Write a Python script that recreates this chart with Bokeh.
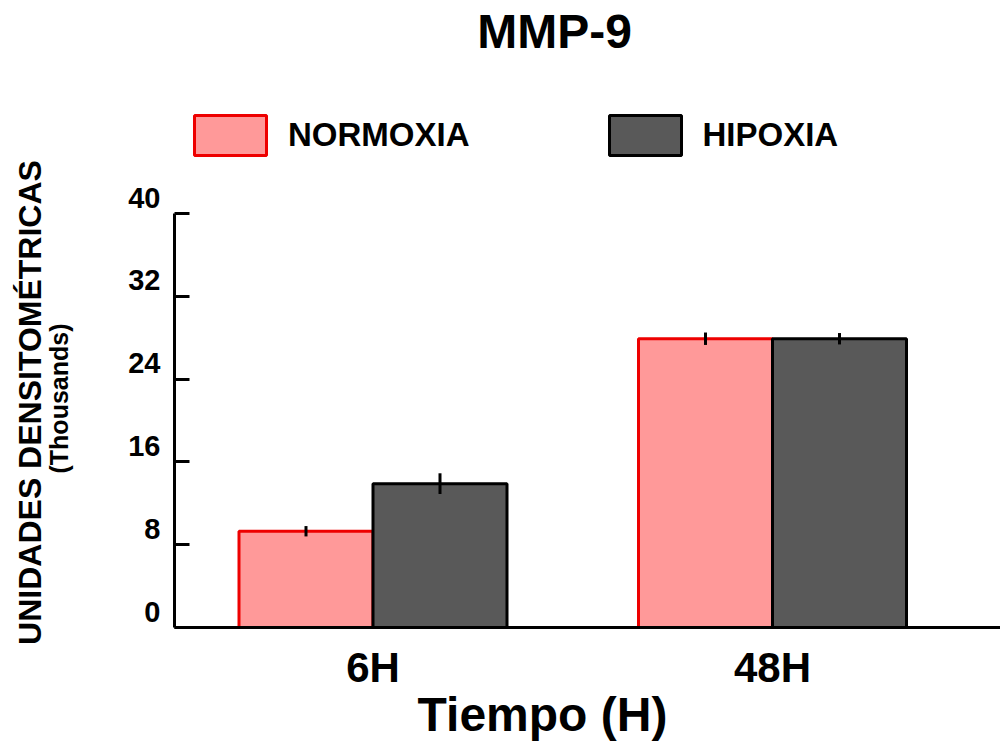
from bokeh.plotting import figure
from bokeh.models import (ColumnDataSource, FixedTicker, Legend, LegendItem,
                          LabelSet, Label, CustomJSTickFormatter)
from bokeh.core.properties import value
from bokeh.transform import dodge
from bokeh.embed import file_html
from bokeh.resources import INLINE
import math

# ---------------- data ----------------
categories = ["6H", "48H"]
normoxia = [9.3, 27.9]
normoxia_err = [0.5, 0.6]
hipoxia = [13.9, 27.9]
hipoxia_err = [1.0, 0.55]
series_names = ["NORMOXIA", "HIPOXIA"]
y_ticks = [0, 8, 16, 24, 32, 40]
title_text = "MMP-9"
x_title = "Tiempo (H)"
y_title_1 = "UNIDADES DENSITOMÉTRICAS"
y_title_2 = "(Thousands)"

# ---------------- layout ----------------
FONT = "Liberation Sans"
W, H = 1000, 741
# pixel positions (picture coordinates) of the plotting area of the original
AX_LEFT, AX_BOTTOM, AX_TOP = 174, 627, 213
G1_CENTER = 372.5
PX_PER_X = 399.5
PX_PER_Y = (AX_BOTTOM - AX_TOP) / 40.0
BAR_W = 134 / PX_PER_X

def dx(px):
    return 1 + (px - G1_CENTER) / PX_PER_X

def dy(py):
    return (AX_BOTTOM - py) / PX_PER_Y

XS, XE = dx(0), dx(W)
YS, YE = dy(H), dy(0)

pos = [i + 1 for i in range(len(categories))]
src = ColumnDataSource(dict(x=pos, cat=categories, n=normoxia, h=hipoxia))

p = figure(width=W, height=H, x_range=(XS, XE), y_range=(YS, YE),
           output_backend="svg", toolbar_location=None, title=None,
           min_border=0, min_border_left=0, min_border_right=0,
           min_border_top=0, min_border_bottom=0)
p.outline_line_color = None
p.xgrid.visible = False
p.ygrid.visible = False
p.background_fill_color = "white"
p.border_fill_color = "white"

r_n = p.vbar(x=dodge("x", -BAR_W / 2, range=p.x_range), top="n", width=BAR_W,
             bottom=0, source=src, fill_color="#FF9999", line_color="#EE0000",
             line_width=3)
r_h = p.vbar(x=dodge("x", BAR_W / 2, range=p.x_range), top="h", width=BAR_W,
             bottom=0, source=src, fill_color="#595959", line_color="black",
             line_width=3)

# error bars
ex = [x - BAR_W / 2 for x in pos] + [x + BAR_W / 2 for x in pos]
ev = normoxia + hipoxia
ee = normoxia_err + hipoxia_err
p.segment(x0=ex, x1=ex, y0=[v - e for v, e in zip(ev, ee)],
          y1=[v + e for v, e in zip(ev, ee)], line_color="black", line_width=3)

# axes, fixed inside the canvas
x_axis_pos = dx(AX_LEFT)
p.xaxis.fixed_location = 0
p.xaxis.bounds = (x_axis_pos, XE)
p.xaxis.ticker = FixedTicker(ticks=[])
p.xaxis.axis_line_width = 3
p.xaxis.major_tick_line_color = None
p.xaxis.minor_tick_line_color = None

p.yaxis.fixed_location = x_axis_pos
p.yaxis.bounds = (y_ticks[0], y_ticks[-1])
p.yaxis.ticker = FixedTicker(ticks=y_ticks)
p.yaxis.axis_line_width = 3
p.yaxis.major_tick_line_width = 3
p.yaxis.major_tick_in = 15
p.yaxis.major_tick_out = 0
p.yaxis.minor_tick_line_color = None
p.yaxis.formatter = CustomJSTickFormatter(code="return ''")
p.yaxis.major_label_standoff = 0

# y tick labels (raised above tick marks like the original)
tsrc = ColumnDataSource(dict(y=y_ticks, t=[str(v) for v in y_ticks]))
p.add_layout(LabelSet(x=dx(160), y="y", text="t", source=tsrc, y_offset=6,
                      text_align="right", text_baseline="alphabetic",
                      text_font=value(FONT), text_font_style="bold",
                      text_font_size="29px", text_color="black"))

# category labels
p.add_layout(LabelSet(x="x", y=dy(681), text="cat", source=src,
                      text_align="center", text_baseline="alphabetic",
                      text_font=value(FONT), text_font_style="bold",
                      text_font_size="42px", text_color="black"))

# x axis title
p.add_layout(Label(x=dx(542), y=dy(714), text=x_title, text_align="center",
                   text_baseline="middle", text_font=FONT,
                   text_font_style="bold", text_font_size="48px",
                   text_color="black"))

# main title
p.add_layout(Label(x=dx(554), y=dy(31), text=title_text, text_align="center",
                   text_baseline="middle", text_font=FONT,
                   text_font_style="bold", text_font_size="48px",
                   text_color="black"))

# y axis titles
p.add_layout(Label(x=dx(29), y=dy(402), text=y_title_1, angle=math.pi / 2,
                   text_align="center", text_baseline="middle", text_font=FONT,
                   text_font_style="bold", text_font_size="32px",
                   text_color="black"))
p.add_layout(Label(x=dx(58), y=dy(398), text=y_title_2, angle=math.pi / 2,
                   text_align="center", text_baseline="middle", text_font=FONT,
                   text_font_style="bold", text_font_size="25px",
                   text_color="black"))

# legend (location measured from the canvas' bottom-left corner)
legend = Legend(items=[LegendItem(label=series_names[0], renderers=[r_n]),
                       LegendItem(label=series_names[1], renderers=[r_h])],
                orientation="horizontal",
                location=(185, H - 160),
                glyph_width=90, glyph_height=50, label_standoff=13,
                spacing=130, padding=0, margin=0,
                border_line_color=None, background_fill_alpha=0,
                label_text_font=FONT, label_text_font_style="bold",
                label_text_font_size="33px", label_text_color="black")
p.add_layout(legend)

open("out.html", "w").write(file_html(p, INLINE))
